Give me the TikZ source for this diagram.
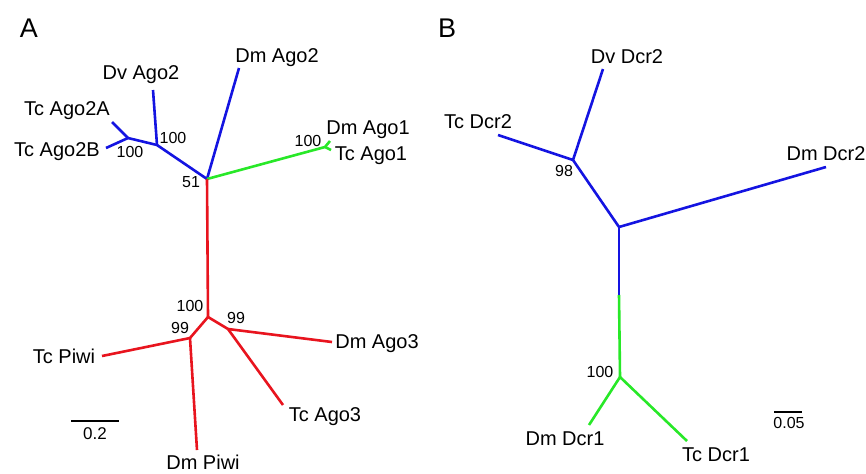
\documentclass[tikz,border=0pt]{standalone}
\usepackage{fontspec}
\setmainfont{Liberation Sans}
\definecolor{tblue}{RGB}{20,20,225}
\definecolor{tgreen}{RGB}{40,232,40}
\definecolor{tred}{RGB}{232,20,30}
\begin{document}
\begin{tikzpicture}[x=0.5pt,y=-0.5pt,
  lab/.style={inner sep=0pt,font=\fontsize{10}{12}\selectfont},
  boot/.style={inner sep=0pt,font=\fontsize{8}{10}\selectfont},
  panel/.style={inner sep=0pt,font=\fontsize{13.5}{16}\selectfont},
  br/.style={line width=1.3pt,line join=round},
  bb/.style={br,tblue}, bg/.style={br,tgreen}, brd/.style={br,tred},
  sbar/.style={line width=1pt,black}]
\useasboundingbox (0,0) rectangle (866,473);
% ---------- Panel A ----------
\node[panel] (pA) at (29,28) {A};
\coordinate (R) at (207,179);
\coordinate (nDv) at (157,145);
\coordinate (nTc) at (128,138);
\coordinate (tDmAgo2) at (239,68);
\coordinate (tDvAgo2) at (153,90);
\coordinate (tTcAgo2A) at (112,122);
\coordinate (tTcAgo2B) at (106,148);
\coordinate (nAgo1) at (325,147);
\coordinate (tDmAgo1) at (330,141);
\coordinate (tTcAgo1) at (331,150);
\coordinate (nRed) at (208,317);
\coordinate (nPiwi) at (190,338);
\coordinate (nAgo3) at (228,329);
\coordinate (tTcPiwi) at (102,356);
\coordinate (tDmPiwi) at (197,450);
\coordinate (tDmAgo3) at (332,342);
\coordinate (tTcAgo3) at (283,405);

\draw[bb] (R) -- (tDmAgo2);
\draw[bb] (R) -- (nDv);
\draw[bb] (nDv) -- (tDvAgo2);
\draw[bb] (nDv) -- (nTc);
\draw[bb] (nTc) -- (tTcAgo2A);
\draw[bb] (nTc) -- (tTcAgo2B);
\draw[bg] (R) -- (nAgo1);
\draw[bg] (nAgo1) -- (tDmAgo1);
\draw[bg] (nAgo1) -- (tTcAgo1);
\draw[brd] (R) -- (nRed);
\draw[brd] (nRed) -- (nPiwi);
\draw[brd] (nRed) -- (nAgo3);
\draw[brd] (nPiwi) -- (tTcPiwi);
\draw[brd] (nPiwi) -- (tDmPiwi);
\draw[brd] (nAgo3) -- (tDmAgo3);
\draw[brd] (nAgo3) -- (tTcAgo3);

\node[lab] (lDmAgo2) at (277,58) {Dm Ago2};
\node[lab] (lDvAgo2) at (141,75) {Dv Ago2};
\node[lab] (lTcAgo2A) at (67,111) {Tc Ago2A};
\node[lab] (lTcAgo2B) at (57,152) {Tc Ago2B};
\node[lab] (lDmAgo1) at (368,130) {Dm Ago1};
\node[lab] (lTcAgo1) at (371,156) {Tc Ago1};
\node[lab] (lTcPiwi) at (64,356) {Tc Piwi};
\node[lab] (lDmPiwi) at (203,462) {Dm Piwi};
\node[lab] (lDmAgo3) at (377,344) {Dm Ago3};
\node[lab] (lTcAgo3) at (325,417) {Tc Ago3};

\node[boot] (b51) at (191,182) {51};
\node[boot] (b100a) at (173,138) {100};
\node[boot] (b100b) at (130,152) {100};
\node[boot] (b100c) at (308,141) {100};
\node[boot] (b100d) at (190,306) {100};
\node[boot] (b99a) at (180,328) {99};
\node[boot] (b99b) at (236,318) {99};

\coordinate (sA1) at (71,421);
\coordinate (sA2) at (119,421);
\draw[sbar] (sA1) -- (sA2);
\node[boot,font=\fontsize{8.5}{10}\selectfont] (sAl) at (95,434) {0.2};

% ---------- Panel B ----------
\node[panel] (pB) at (447,28) {B};
\coordinate (C) at (619,227);
\coordinate (n98) at (573,160);
\coordinate (tDvDcr2) at (603,69);
\coordinate (tTcDcr2) at (498,135);
\coordinate (tDmDcr2) at (826,167);
\coordinate (mid) at (619,295);
\coordinate (n100) at (620,377);
\coordinate (tDmDcr1) at (589,425);
\coordinate (tTcDcr1) at (687,441);

\draw[bb] (C) -- (n98);
\draw[bb] (n98) -- (tDvDcr2);
\draw[bb] (n98) -- (tTcDcr2);
\draw[bb] (C) -- (tDmDcr2);
\draw[bb] (C) -- (mid);
\draw[bg] (mid) -- (n100);
\draw[bg] (n100) -- (tDmDcr1);
\draw[bg] (n100) -- (tTcDcr1);

\node[lab] (lDvDcr2) at (627,57) {Dv Dcr2};
\node[lab] (lTcDcr2) at (478,122) {Tc Dcr2};
\node[lab] (lDmDcr2) at (826,154) {Dm Dcr2};
\node[lab] (lDmDcr1) at (565,439) {Dm Dcr1};
\node[lab] (lTcDcr1) at (716,455) {Tc Dcr1};

\node[boot] (b98) at (564,171) {98};
\node[boot] (b100e) at (600,372) {100};

\coordinate (sB1) at (774,412);
\coordinate (sB2) at (802,412);
\draw[sbar] (sB1) -- (sB2);
\node[boot,font=\fontsize{8}{10}\selectfont] (sBl) at (789,423) {0.05};
\end{tikzpicture}
\end{document}
